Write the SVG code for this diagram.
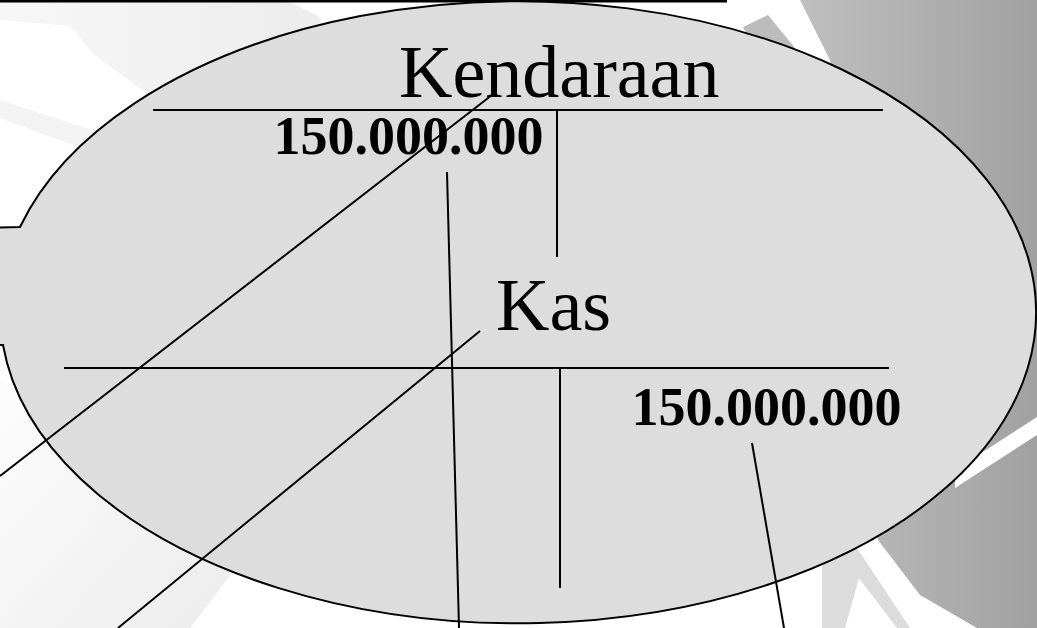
<svg xmlns="http://www.w3.org/2000/svg" width="1037" height="628" viewBox="0 0 1037 628">
<defs>
<linearGradient id="gRight" x1="800" y1="0" x2="1037" y2="0" gradientUnits="userSpaceOnUse">
<stop offset="0" stop-color="#bfbfbf"/>
<stop offset="1" stop-color="#a1a1a1"/>
</linearGradient>
<linearGradient id="gTopLeft" x1="0" y1="0" x2="330" y2="0" gradientUnits="userSpaceOnUse">
<stop offset="0" stop-color="#f7f7f7"/>
<stop offset="1" stop-color="#ececec"/>
</linearGradient>
<linearGradient id="gBotLeft" x1="0" y1="420" x2="230" y2="628" gradientUnits="userSpaceOnUse">
<stop offset="0" stop-color="#fcfcfc"/>
<stop offset="1" stop-color="#ececec"/>
</linearGradient>
<style>
.ln{stroke:#000;stroke-width:2;fill:none}
.title{font-family:"Liberation Serif","Times New Roman",serif;font-size:74px;fill:#000}
.amt{font-family:"Liberation Serif","Times New Roman",serif;font-size:54px;font-weight:bold;fill:#000}
</style>
</defs>
<rect x="0" y="0" width="1037" height="628" fill="#ffffff"/>
<g id="background">
<polygon points="0,2 290,2 318,16 330,40 330,120 145,92 92,53 70,26 0,20" fill="url(#gTopLeft)"/>
<polygon points="0,100 92,130 100,150 75,146 0,118" fill="#f3f3f3"/>
<polygon points="0,380 300,520 232,573 190,628 0,628" fill="url(#gBotLeft)"/>
<polygon points="800,0 1037,0 1037,628 977,628 920,595 878,540 830,60" fill="url(#gRight)"/>
<polygon points="743,27 768,15 795,48 760,60" fill="#bcbcbc"/>
<polygon points="955,470 1037,417 1037,435 955,488" fill="#ffffff"/>
<polygon points="822,565 857,548 910,628 897,628 859,578 845,628 822,628" fill="#dcdcdc"/>
</g>
<rect x="0" y="0" width="727" height="2.5" fill="#000"/>
<g id="callout">
<path d="M 20 227 A 518 311 0 1 1 3 345 L -80 343 L -80 229 Z" fill="#dddddd" stroke="#000" stroke-width="2"/>
</g>
<g id="account-kendaraan">
<text class="title" x="399" y="97">Kendaraan</text>
<line class="ln" x1="153" y1="110" x2="883" y2="110"/>
<line class="ln" x1="557" y1="111" x2="557" y2="257"/>
<text class="amt" x="273.5" y="154">150.000.000</text>
</g>
<g id="account-kas">
<text class="title" x="496" y="330">Kas</text>
<line class="ln" x1="64" y1="368" x2="889" y2="368"/>
<line class="ln" x1="560" y1="369" x2="560" y2="588"/>
<text class="amt" x="631.5" y="425">150.000.000</text>
</g>
<g id="connectors">
<line class="ln" x1="492" y1="95" x2="0" y2="476"/>
<line class="ln" x1="480" y1="331" x2="118" y2="628"/>
<line class="ln" x1="447" y1="172" x2="459" y2="628"/>
<line class="ln" x1="752" y1="443" x2="784" y2="628"/>
</g>
</svg>
